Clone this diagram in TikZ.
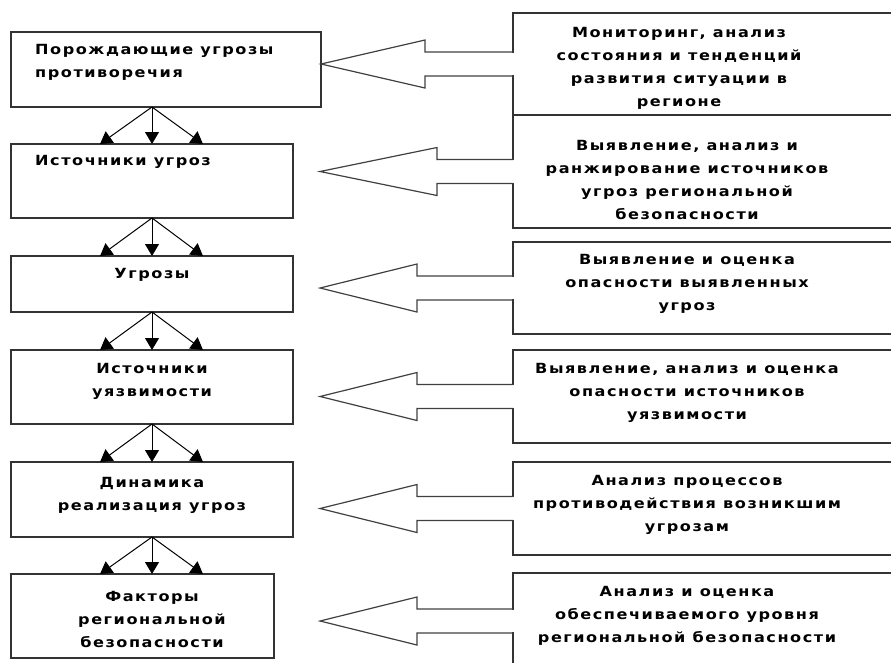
\documentclass[tikz,border=0pt]{standalone}
\usepackage{fontspec}
\usepackage{tikz}
\usetikzlibrary{arrows.meta,calc}
\newfontfamily\diagfont{DejaVu Sans}[FakeStretch=1.15,LetterSpace=11]

\begin{document}
\begin{tikzpicture}
		[x=1pt, y=-1pt,
		left box/.style={rectangle, draw=black!80, line width=1.4pt, outer sep=0pt, inner sep=0pt},
		right box/.style={rectangle, draw=black!80, line width=1.4pt, outer sep=0pt, inner sep=0pt},
		box text/.style={font=\diagfont\bfseries\fontsize{14}{23}\selectfont, inner sep=0pt},
		small arrow/.style={draw=black, line width=1pt, -{Triangle[length=12pt, width=14pt]}},
		big arrow/.style={draw=black!75, line width=1.2pt}]
		\useasboundingbox (0,0) rectangle (891,662);
		% left column
		\foreach \a/\t/\b/\r in {1/32/107/321, 2/144/218/293, 3/256/312/293, 4/350/424/293, 5/462/537/293, 6/574/658/274}{
			\node[left box, minimum width={(\r-11)*1pt}, minimum height={(\b-\t)*1pt}] (l\a) at ({(11+\r)/2}, {(\t+\b)/2}) {};
		}
		\node[box text, anchor=west, align=left] (lt1) at (35,62) {Порождающие угрозы\\противоречия};
		\node[box text, anchor=west] (lt2) at (35,162) {Источники угроз};
		\node[box text, align=center] (lt3) at (152,275) {Угрозы};
		\node[box text, align=center] (lt4) at (152,381) {Источники\\уязвимости};
		\node[box text, align=center] (lt5) at (152,495) {Динамика\\реализация угроз};
		\node[box text, align=center] (lt6) at (152,619) {Факторы\\региональной\\безопасности};
		\foreach \a/\b in {1/2,2/3,3/4,4/5,5/6}{
			\coordinate (s\a) at ($(l\a.south west)+(141,0)$);
			\path (s\a) edge[small arrow] ($(l\b.north west)+(89,0)$)
			            edge[small arrow] ($(l\b.north west)+(141,0)$)
			            edge[small arrow] ($(l\b.north west)+(192,0)$);
		}
		% right column
		\foreach \a/\t/\b in {1/13/115, 2/115/228, 3/242/334, 4/350/443, 5/462/555, 6/573/669}{
			\node[right box, minimum width=400pt, minimum height={(\b-\t)*1pt}] (r\a) at (713, {(\t+\b)/2}) {};
		}
		\node[box text, align=center] (rt1) at (679,68) {Мониторинг, анализ\\состояния и тенденций\\развития ситуации в\\регионе};
		\node[box text, align=center] (rt2) at (687,180) {Выявление, анализ и\\ранжирование источников\\угроз региональной\\безопасности};
		\node[box text, align=center] (rt3) at (687,284) {Выявление и оценка\\опасности выявленных\\угроз};
		\node[box text, align=center] (rt4) at (687,393) {Выявление, анализ и оценка\\опасности источников\\уязвимости};
		\node[box text, align=center] (rt5) at (687,505) {Анализ процессов\\противодействия возникшим\\угрозам};
		\node[box text, align=center] (rt6) at (687,616) {Анализ и оценка\\обеспечиваемого уровня\\региональной безопасности};
		% block arrows
		\foreach \a/\h/\x in {1/425/321, 2/437/320, 3/417/320, 4/417/320, 5/417/320, 6/417/320}{
			\coordinate (tip\a) at (\x, 0 |- r\a.west);
			\fill[white] ($(r\a.west)+(-3,-11.3)$) rectangle ($(r\a.west)+(3,11.3)$);
			\draw[big arrow] ($(r\a.west)+(0,-12)$) -- ++({\h-513},0) -- ++(0,-12) -- (tip\a)
				-- ($(r\a.west)+({\h-513},24)$) -- ++(0,-12) -- ++({513-\h},0);
		}
\end{tikzpicture}
\end{document}
